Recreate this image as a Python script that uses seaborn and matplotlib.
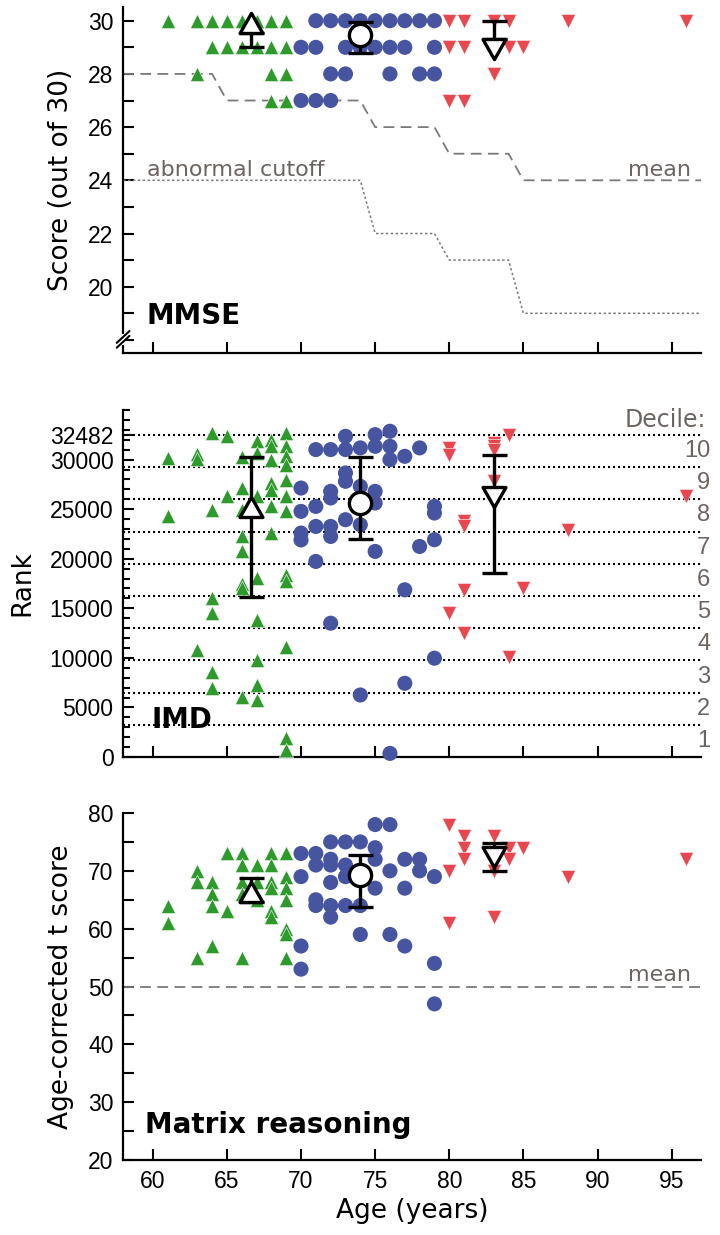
import numpy as np
import pandas as pd
import seaborn as sns
import matplotlib
matplotlib.use("Agg")
import matplotlib.pyplot as plt
from matplotlib.path import Path
from matplotlib.ticker import MultipleLocator

#------------------------------------------------------------------------------------
# values

GROUPS = ["young", "mid", "old"]
COLOURS = {"young": "#2f9a2c", "mid": "#47549f", "old": "#e8474f"}
GREY = "#6b6461"
LINE_GREY = "#7a7a7a"

age_ticks = [60, 65, 70, 75, 80, 85, 90, 95]

# MMSE
mmse_young_age = [61, 63, 64, 65, 66, 67, 68, 69, 64, 65, 66, 67, 68, 69, 63, 68, 69, 68, 69]
mmse_young = [30, 30, 30, 30, 30, 30, 30, 30, 29, 29, 29, 29, 29, 29, 28, 28, 28, 27, 27]
mmse_mid_age = [71, 72, 73, 74, 75, 76, 77, 78, 79, 70, 71, 73, 74, 75, 76, 77, 79,
                72, 73, 76, 78, 79, 70, 71, 72]
mmse_mid = [30, 30, 30, 30, 30, 30, 30, 30, 30, 29, 29, 29, 29, 29, 29, 29, 29,
            28, 28, 28, 28, 28, 27, 27, 27]
mmse_old_age = [80, 81, 83, 84, 88, 96, 80, 81, 84, 85, 83, 80, 81]
mmse_old = [30, 30, 30, 30, 30, 30, 29, 29, 29, 29, 28, 27, 27]

mmse_norm_age = [58, 64, 65, 74, 75, 79, 80, 84, 85, 97]
mmse_norm_mean = [28, 28, 27, 27, 26, 26, 25, 25, 24, 24]
mmse_cutoff_age = [58, 74, 75, 79, 80, 84, 85, 97]
mmse_cutoff = [24, 24, 22, 22, 21, 21, 19, 19]

# IMD rank
imd_young_age = [61, 61, 63, 63, 64, 65, 64, 65, 66, 66, 66, 66, 66, 66, 66, 66,
                 67, 67, 67, 67, 67, 67, 67, 67, 68, 68, 68, 68, 68, 68, 68,
                 69, 69, 69, 69, 69, 69, 69, 69, 69, 69, 69, 69, 64, 64, 64, 64, 63]
imd_young = [30170, 24270, 30600, 30100, 32700, 32350, 24950, 26300, 30300, 27170, 24950,
             22300, 20740, 17500, 17000, 6090, 31850, 30700, 26300, 18050, 13840, 9800,
             7270, 5760, 32020, 31340, 30000, 27670, 26970, 25280, 22620, 32720, 31340,
             30330, 29490, 27980, 26300, 24780, 18380, 17710, 11140, 1890, 710, 16030,
             14510, 8620, 6940, 10810]
imd_mid_age = [73, 75, 76, 71, 72, 73, 74, 75, 76, 76, 77, 78, 70, 70, 71, 72, 72, 73,
               73, 73, 74, 75, 75, 72, 71, 70, 70, 74, 79, 79, 79, 75, 78, 71, 72, 77,
               72, 79, 77, 74, 76]
imd_mid = [32350, 32520, 32860, 31010, 31010, 31010, 31180, 31340, 31340, 30000, 30330,
           31180, 27130, 24780, 25280, 26800, 26130, 28650, 27810, 23940, 27300, 26800,
           25620, 23260, 23260, 22590, 21900, 23430, 25280, 24610, 21920, 20740, 21240,
           19730, 22250, 16870, 13500, 9970, 7440, 6260, 370]
imd_old_age = [84, 80, 80, 83, 83, 83, 83, 83, 81, 81, 88, 96, 81, 85, 80, 81, 84]
imd_old = [32520, 31180, 30500, 31680, 31340, 31010, 27810, 25620, 23770, 23270, 22930,
           26300, 16870, 17040, 14510, 12490, 10130]

imd_ticks = [0, 5000, 10000, 15000, 20000, 25000, 30000, 32482]
decile_edges = [0, 3248, 6496, 9745, 12993, 16241, 19489, 22738, 25986, 29234, 32482]
decile_labels = ["1", "2", "3", "4", "5", "6", "7", "8", "9", "10"]

# Matrix reasoning (age-corrected t score)
mat_young_age = [61, 61, 63, 63, 63, 64, 64, 64, 64, 65, 65, 66, 66, 66, 66, 66, 67, 67, 67,
                 68, 68, 68, 68, 68, 68, 69, 69, 69, 69, 69, 69, 69]
mat_young = [64, 61, 70, 68, 55, 68, 66, 64, 57, 73, 63, 73, 71, 68, 66, 55, 71, 68, 65,
             73, 71, 68, 67, 63, 62, 73, 69, 67, 65, 60, 59, 55]
mat_mid_age = [75, 76, 72, 73, 74, 75, 70, 71, 72, 71, 72, 73, 75, 77, 78, 70, 72, 73, 76,
               78, 79, 75, 77, 71, 71, 72, 72, 73, 74, 74, 76, 77, 70, 70, 79, 79]
mat_mid = [78, 78, 75, 75, 75, 74, 73, 73, 72, 71, 71, 71, 72, 72, 72, 69, 68, 69, 70,
           70, 69, 67, 67, 65, 64, 64, 62, 64, 64, 59, 59, 57, 57, 53, 54, 47]
mat_old_age = [80, 81, 83, 81, 81, 84, 85, 84, 83, 80, 88, 96, 80, 83]
mat_old = [78, 76, 76, 74, 72, 74, 74, 72, 70, 70, 69, 72, 61, 62]
mat_norm_age = [58, 97]
mat_norm_mean = [50, 50]

# group summaries (marker anchor, lower and upper bar ends)
summary_age = [66.6, 74.0, 83.0]
mmse_centre = [29.55, 29.45, 29.3]
mmse_lo = [29.0, 28.8, 29.3]
mmse_hi = [29.55, 29.95, 30.0]
imd_centre = [24240, 25620, 27280]
imd_lo = [16160, 21990, 18550]
imd_hi = [30300, 30270, 30500]
mat_centre = [64.6, 69.3, 74.2]
mat_lo = [64.6, 63.8, 69.9]
mat_hi = [68.7, 72.7, 74.75]

#------------------------------------------------------------------------------------

sns.set_style("ticks")
plt.rcParams["font.family"] = ["Liberation Sans", "DejaVu Sans"]
plt.rcParams.update({"text.color": "black", "axes.labelcolor": "black",
                     "axes.edgecolor": "black", "xtick.color": "black",
                     "ytick.color": "black"})
LABEL_FONT = "DejaVu Sans"

POINT_MARKERS = {"young": "^", "mid": "o", "old": "v"}
POINT_SIZES = {"young": 105, "mid": 118, "old": 105}
# triangles anchored on their flat side so the bar cap sits on the edge
UP_BASE = Path([(0, 0.88), (-0.5, 0), (0.5, 0), (0, 0.88)], closed=True)
DOWN_TOP = Path([(0, -0.88), (0.5, 0), (-0.5, 0), (0, -0.88)], closed=True)
SUMMARY_MARKERS = [(UP_BASE, 29), ("o", 16), (DOWN_TOP, 29)]


def scatter_groups(ax, ages, values):
    for grp, a, v in zip(GROUPS, ages, values):
        df = pd.DataFrame({"age": a, "value": v})
        edge = "white" if grp != "mid" else "none"
        sns.scatterplot(data=df, x="age", y="value", ax=ax, color=COLOURS[grp],
                        marker=POINT_MARKERS[grp], s=POINT_SIZES[grp],
                        edgecolor=edge, linewidth=0.4, legend=False, zorder=3,
                        clip_on=False)


def draw_summary(ax, centre, lo, hi):
    for x, c, l, h, (mk, ms) in zip(summary_age, centre, lo, hi, SUMMARY_MARKERS):
        ax.errorbar([x], [c], yerr=[[c - l], [h - c]], fmt="none", ecolor="black",
                    elinewidth=2.4, capsize=9, capthick=2.4, zorder=5)
        ax.plot([x], [c], marker=mk, ms=ms, mfc="white", mec="black", mew=2.4,
                ls="none", zorder=6)


def style_axis(ax, minor_len):
    sns.despine(ax=ax)
    for sp in ["left", "bottom"]:
        ax.spines[sp].set_linewidth(1.6)
        ax.spines[sp].set_color("black")
    ax.set_xlim(58, 97)
    ax.set_xticks(age_ticks)
    ax.tick_params(which="both", direction="in", width=1.5, labelsize=16.5, pad=7,
                   colors="black")
    ax.tick_params(which="major", length=8)
    ax.tick_params(axis="y", which="minor", length=minor_len)
    ax.set_xlabel("")


fig = plt.figure(figsize=(7.2, 12.35), dpi=100)
ax_mmse = fig.add_axes([0.171, 0.714, 0.803, 0.280])
ax_imd = fig.add_axes([0.171, 0.387, 0.803, 0.281])
ax_mat = fig.add_axes([0.171, 0.0607, 0.803, 0.281])

# ---- MMSE
ax = ax_mmse
ax.plot(mmse_norm_age, mmse_norm_mean, color=LINE_GREY, lw=1.3, ls=(0, (6, 3.5)), zorder=1)
ax.plot(mmse_cutoff_age, mmse_cutoff, color=LINE_GREY, lw=1.1, ls=(0, (1.6, 1.6)), zorder=1)
scatter_groups(ax, [mmse_young_age, mmse_mid_age, mmse_old_age],
               [mmse_young, mmse_mid, mmse_old])
draw_summary(ax, mmse_centre, mmse_lo, mmse_hi)
style_axis(ax, 8)
ax.set_ylim(17.5, 30.5)
ax.set_yticks([20, 22, 24, 26, 28, 30])
ax.yaxis.set_minor_locator(MultipleLocator(1))
ax.set_xticklabels([])
ax.set_ylabel("Score (out of 30)", family=LABEL_FONT, fontsize=19, labelpad=10)
ax.text(59.6, 24.15, "abnormal cutoff", family=LABEL_FONT, fontsize=16, color=GREY)
ax.text(96.3, 24.15, "mean", family=LABEL_FONT, fontsize=16, color=GREY, ha="right")
ax.text(59.6, 18.6, "MMSE", family=LABEL_FONT, fontsize=20, fontweight="bold")
# axis break marks on the spine
brk = dict(transform=ax.transAxes, color="black", lw=1.5, clip_on=False, zorder=10)
ax.plot([0, 0], [0.03, 0.05], transform=ax.transAxes, color="white", lw=3,
        clip_on=False, zorder=9)
ax.plot([-0.011, 0.011], [0.016, 0.050], **brk)
ax.plot([-0.011, 0.011], [0.030, 0.064], **brk)

# ---- IMD
ax = ax_imd
for edge in decile_edges[1:]:
    ax.axhline(edge, color="black", lw=1.5, ls=(0, (1, 1.4)), zorder=1)
scatter_groups(ax, [imd_young_age, imd_mid_age, imd_old_age],
               [imd_young, imd_mid, imd_old])
draw_summary(ax, imd_centre, imd_lo, imd_hi)
style_axis(ax, 5)
ax.set_ylim(0, 35000)
ax.set_yticks(imd_ticks)
ax.set_yticklabels([str(t) for t in imd_ticks])
ax.yaxis.set_minor_locator(MultipleLocator(1000))
ax.set_xticklabels([])
ax.set_ylabel("Rank", family=LABEL_FONT, fontsize=19, labelpad=10)
mids = [(lo + hi) / 2 for lo, hi in zip(decile_edges[:-1], decile_edges[1:])]
for m, lab in zip(mids, decile_labels):
    ax.text(97.6, m, lab, fontsize=17, color=GREY, ha="right", va="center")
ax.text(97.3, 33300, "Decile:", family=LABEL_FONT, fontsize=17, color=GREY, ha="right")
ax.text(59.9, 2930, "IMD", family=LABEL_FONT, fontsize=20, fontweight="bold")

# ---- Matrix reasoning
ax = ax_mat
ax.plot(mat_norm_age, mat_norm_mean, color=LINE_GREY, lw=1.3, ls=(0, (6, 3.5)), zorder=1)
scatter_groups(ax, [mat_young_age, mat_mid_age, mat_old_age],
               [mat_young, mat_mid, mat_old])
draw_summary(ax, mat_centre, mat_lo, mat_hi)
style_axis(ax, 8)
ax.set_ylim(20, 80)
ax.set_yticks([20, 30, 40, 50, 60, 70, 80])
ax.yaxis.set_minor_locator(MultipleLocator(5))
ax.set_ylabel("Age-corrected t score", family=LABEL_FONT, fontsize=19, labelpad=10)
ax.set_xlabel("Age (years)", family=LABEL_FONT, fontsize=19, labelpad=4)
ax.text(96.3, 51.0, "mean", family=LABEL_FONT, fontsize=16, color=GREY, ha="right")
ax.text(59.5, 24.7, "Matrix reasoning", family=LABEL_FONT, fontsize=20, fontweight="bold")

fig.savefig("out.png", dpi=100, facecolor="white")
